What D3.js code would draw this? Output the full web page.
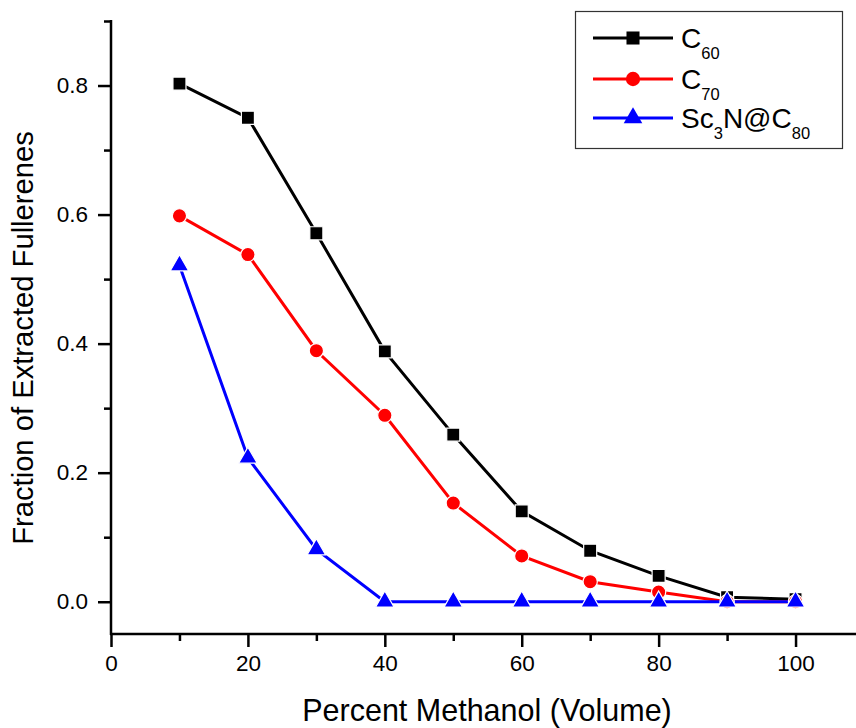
<!DOCTYPE html>
<html><head><meta charset="utf-8">
<script src="https://cdn.jsdelivr.net/npm/d3@7"></script>
<style>
body{margin:0;background:#fff;}
svg{display:block;font-family:"Liberation Sans",Arial,sans-serif;}
</style></head>
<body><svg id="c" width="856" height="728"></svg>
<script>
const methanol = [10,20,30,40,50,60,70,80,90,100];
const c60 = [0.803,0.750,0.571,0.388,0.259,0.140,0.079,0.040,0.007,0.004];
const c70 = [0.598,0.538,0.389,0.289,0.153,0.071,0.031,0.015,0.0,0.0];
const sc3n = [0.521,0.223,0.081,0.0,0.0,0.0,0.0,0.0,0.0,0.0];
const xTicks = [0,20,40,60,80,100];
const yTicks = [0.0,0.2,0.4,0.6,0.8];
const seriesNames = ["C60","C70","Sc3N@C80"];

const svg = d3.select("#c");
const x = d3.scaleLinear().domain([0,110]).range([111,864]);
const y = d3.scaleLinear().domain([-0.05,0.9]).range([634,21]);

const xAxis = d3.axisBottom(x).tickValues(xTicks).tickSize(13).tickPadding(8).tickFormat(d3.format("d"));
const xMinor = d3.axisBottom(x).tickValues([10,30,50,70,90,110]).tickSize(7).tickFormat("");
const yAxis = d3.axisLeft(y).tickValues(yTicks).tickSize(13).tickPadding(10).tickFormat(d3.format(".1f"));
const yMinor = d3.axisLeft(y).tickValues([0.1,0.3,0.5,0.7,0.9]).tickSize(7).tickFormat("");

function style(g){
  g.select(".domain").remove();
  g.selectAll(".tick line").attr("stroke","#000").attr("stroke-width",2.5);
  g.selectAll(".tick text").attr("fill","#000").attr("font-size",22.5).attr("font-family","Liberation Sans, Arial, sans-serif");
}
svg.append("g").attr("transform","translate(0,634)").call(xMinor).call(style);
svg.append("g").attr("transform","translate(0,634)").call(xAxis).call(style);
svg.append("g").attr("transform","translate(111,0)").call(yMinor).call(style);
svg.append("g").attr("transform","translate(111,0)").call(yAxis).call(style);
svg.append("line").attr("x1",111).attr("x2",111).attr("y1",y(0.9)-1).attr("y2",635).attr("stroke","#000").attr("stroke-width",2.5);
svg.append("line").attr("x1",110).attr("x2",856).attr("y1",634).attr("y2",634).attr("stroke","#000").attr("stroke-width",2.5);

svg.append("text").attr("x",487).attr("y",721).attr("text-anchor","middle").attr("font-size",30.5).attr("fill","#000").text("Percent Methanol (Volume)");
svg.append("text").attr("transform","translate(33,338) rotate(-90)").attr("text-anchor","middle").attr("font-size",29.2).attr("fill","#000").text("Fraction of Extracted Fullerenes");

const series = [
  {name:seriesNames[0], vals:c60, color:"#000000", shape:d3.symbolSquare, size:170},
  {name:seriesNames[1], vals:c70, color:"#ff0000", shape:d3.symbolCircle, size:160},
  {name:seriesNames[2], vals:sc3n, color:"#0000ff", shape:d3.symbolTriangle, size:150}
];
const line = d3.line().x((d,i)=>x(methanol[i])).y(d=>y(d));
series.forEach(s=>{
  svg.append("path").datum(s.vals).attr("d",line).attr("fill","none").attr("stroke",s.color).attr("stroke-width",3);
});
series.forEach(s=>{
  svg.append("g").selectAll("path").data(s.vals).join("path")
    .attr("transform",(d,i)=>`translate(${x(methanol[i])},${y(d)})`)
    .attr("d",d3.symbol().type(s.shape).size(s.size)())
    .attr("fill",s.color).attr("stroke","#fff").attr("stroke-width",1.2);
});

const lg = svg.append("g");
lg.append("rect").attr("x",575.5).attr("y",11.5).attr("width",267).attr("height",137).attr("fill","#fff").attr("stroke","#333").attr("stroke-width",1.2);
const rowsY = [38,79,118];
const labels = [["C","60"],["C","70"],["Sc","3","N@C","80"]];
series.forEach((s,i)=>{
  const yy = rowsY[i];
  lg.append("line").attr("x1",593).attr("x2",673).attr("y1",yy).attr("y2",yy).attr("stroke",s.color).attr("stroke-width",3);
  lg.append("path").attr("transform",`translate(633,${yy})`).attr("d",d3.symbol().type(s.shape).size(s.size)()).attr("fill",s.color);
  const t = lg.append("text").attr("x",681).attr("y",yy+10).attr("font-size",28).attr("fill","#000");
  labels[i].forEach((part,j)=>{
    if(j%2===0){ t.append("tspan").attr("font-size",28).attr("dy", j===0?0:-11).text(part); }
    else { t.append("tspan").attr("font-size",16.5).attr("dy",11).text(part); }
  });
});
</script></body></html>
